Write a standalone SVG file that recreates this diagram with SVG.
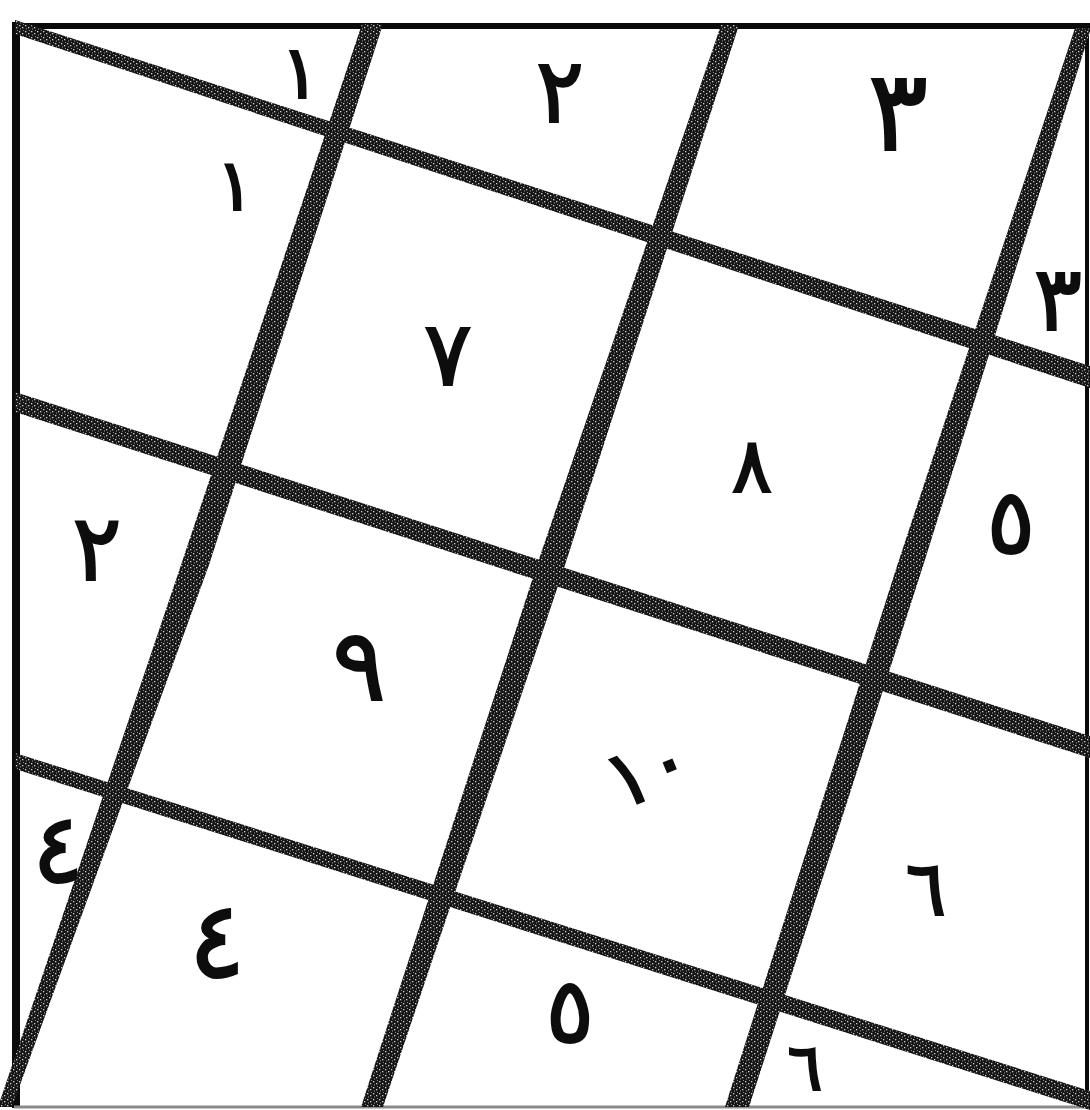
<svg xmlns="http://www.w3.org/2000/svg" width="1090" height="1110" viewBox="0 0 1090 1110">
<defs>
<pattern id="grain" width="6" height="6" patternUnits="userSpaceOnUse">
<rect width="6" height="6" fill="#161616"/>
<rect x="1" y="1" width="1.3" height="1.3" fill="#fff" opacity="0.8"/>
<rect x="4" y="3" width="1.3" height="1.3" fill="#fff" opacity="0.8"/>
<rect x="2" y="4.5" width="1" height="1" fill="#fff" opacity="0.6"/>
<rect x="5" y="0" width="1" height="1" fill="#fff" opacity="0.5"/>
</pattern>
<style>
.band{fill:url(#grain)}
.frame{stroke:#0a0a0a;fill:none}
.num{font-family:"DejaVu Sans",sans-serif;font-weight:normal;fill:#0d0d0d;stroke:#0d0d0d;stroke-width:2;text-anchor:middle}
</style>
</defs>
<rect width="1090" height="1110" fill="#fff"/>
<g id="frame">
<line class="frame" x1="16" y1="22" x2="16" y2="1108" stroke-width="8"/>
<line class="frame" x1="12" y1="26" x2="1090" y2="26" stroke-width="6"/>
<line class="frame" x1="1087" y1="24" x2="1087" y2="1108" stroke-width="4"/>
<line x1="14" y1="1107" x2="1088" y2="1107" stroke="#8a8a8a" stroke-width="3"/>
</g>
<g id="grid-lines">
<polygon class="band" points="15,20 1090,366 1090,388 15,34"/>
<polygon class="band" points="15,392 1090,736 1090,758 15,412"/>
<polygon class="band" points="15,753 1090,1091 1090,1110 15,769"/>
<polygon class="band" points="362,24 383,24 209,565 12,1107 -2,1107 181,565"/>
<polygon class="band" points="721,25 739,25 565,565 383,1107 361,1107 537,565"/>
<polygon class="band" points="1075,28 1091,28 923,566 749,1107 725,1107 897,566"/>
</g>
<g id="labels">
<text class="num" x="300" y="98" font-size="74">١</text>
<text class="num" x="560" y="122" font-size="90">٢</text>
<text class="num" x="898" y="150" font-size="112">٣</text>
<text class="num" x="235" y="210" font-size="72">١</text>
<text class="num" x="1058" y="330" font-size="90">٣</text>
<text class="num" x="448" y="385" font-size="90">٧</text>
<text class="num" x="752" y="492" font-size="76">٨</text>
<text class="num" x="97" y="580" font-size="92">٢</text>
<text class="num" x="1011" y="553" font-size="90">٥</text>
<text class="num" x="359" y="700" font-size="100">٩</text>
<text class="num" x="648" y="798" font-size="80" transform="rotate(-22 645 770)">١٠</text>
<text class="num" x="58" y="882" font-size="96">٤</text>
<text class="num" x="926" y="915" font-size="76">٦</text>
<text class="num" x="217" y="977" font-size="106">٤</text>
<text class="num" x="570" y="1042" font-size="90">٥</text>
<text class="num" x="805" y="1090" font-size="66">٦</text>
</g>
</svg>
